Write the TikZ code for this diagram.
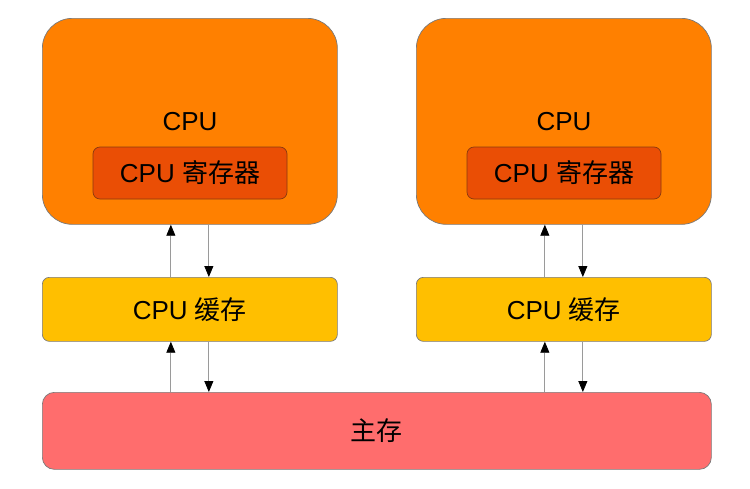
\documentclass[tikz,border=0pt]{standalone}
\usepackage{fontspec}
\setmainfont{Liberation Sans}
\newfontfamily\cjk{Noto Sans CJK SC}
\usetikzlibrary{arrows.meta}
\definecolor{cpuorange}{HTML}{FF8000}
\definecolor{regred}{HTML}{EA4E05}
\definecolor{regborder}{HTML}{8A3A10}
\definecolor{cacheyellow}{HTML}{FFBF00}
\definecolor{memred}{HTML}{FF6D6D}
\definecolor{boxborder}{HTML}{7A7A7A}
\definecolor{linegray}{HTML}{9A9A9A}
\begin{document}
\begin{tikzpicture}[x=1pt,y=-1pt,
  every node/.style={font=\fontsize{26}{31}\selectfont, inner sep=0pt},
  cpubox/.style={draw=boxborder, fill=cpuorange, rounded corners=30pt, minimum width=295pt, minimum height=206pt, anchor=north west, line width=0.7pt},
  regbox/.style={draw=regborder, fill=regred, rounded corners=7pt, minimum width=194pt, minimum height=52pt, line width=0.7pt},
  cachebox/.style={draw=boxborder, fill=cacheyellow, rounded corners=7pt, minimum width=295pt, minimum height=64pt, anchor=north west, line width=0.7pt},
  membox/.style={draw=boxborder, fill=memred, rounded corners=12pt, minimum width=669pt, minimum height=77pt, anchor=north west, line width=0.7pt},
  arr/.style={draw=linegray, line width=0.8pt, -{Triangle[width=9pt,length=11pt,fill=black,color=black]}}
]
\useasboundingbox (0,0) rectangle (750,488);
% CPUs
\node[cpubox] (cpu1) at (42,18) {};
\node[cpubox] (cpu2) at (416,18) {};
\node (cpulabel1) at (190,122) {CPU};
\node (cpulabel2) at (564,122) {CPU};
\node[regbox] (reg1) at (190,173) {CPU {\cjk 寄存器}};
\node[regbox] (reg2) at (564,173) {CPU {\cjk 寄存器}};
% caches
\node[cachebox] (cache1) at (42,277) {CPU {\cjk 缓存}};
\node[cachebox] (cache2) at (416,277) {CPU {\cjk 缓存}};
% memory
\node[membox] (mem) at (42,392) {{\cjk 主存}};
% arrows
\draw[arr] ([xshift=-19pt]cache1.north) -- ([xshift=-19pt]cpu1.south);
\draw[arr] ([xshift=19pt]cpu1.south) -- ([xshift=19pt]cache1.north);
\draw[arr] ([xshift=-19pt]cache2.north) -- ([xshift=-19pt]cpu2.south);
\draw[arr] ([xshift=19pt]cpu2.south) -- ([xshift=19pt]cache2.north);
\draw[arr] ([xshift=-19pt]cache1.south |- mem.north) -- ([xshift=-19pt]cache1.south);
\draw[arr] ([xshift=19pt]cache1.south) -- ([xshift=19pt]cache1.south |- mem.north);
\draw[arr] ([xshift=-19pt]cache2.south |- mem.north) -- ([xshift=-19pt]cache2.south);
\draw[arr] ([xshift=19pt]cache2.south) -- ([xshift=19pt]cache2.south |- mem.north);
\end{tikzpicture}
\end{document}
